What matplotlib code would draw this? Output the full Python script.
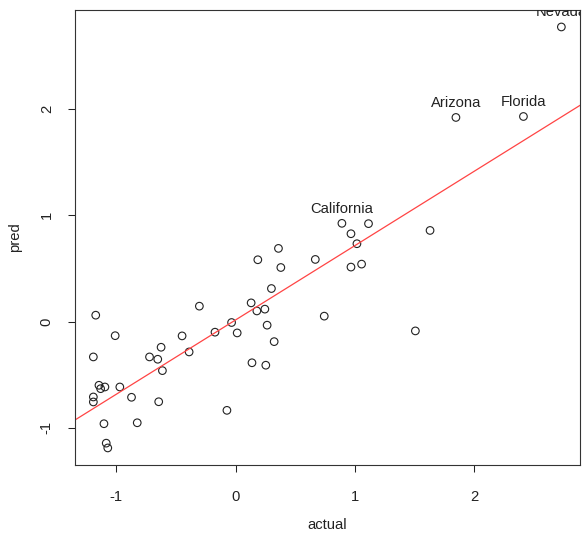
import numpy as np
import matplotlib
matplotlib.use("Agg")
import matplotlib.pyplot as plt

plt.rcParams["font.family"] = ["Liberation Sans", "DejaVu Sans"]

# standardized actual vs predicted values, one point per state
actual = [
    -1.173, -1.010, -1.193, -1.146, -1.132, -1.096, -0.971, -1.193, -1.193,
    -0.873, -1.104, -0.825, -1.085, -1.072, -0.645, -0.073, -0.722, -0.653,
    -0.625, -0.614, -0.449, -0.390, -0.304, -0.173, -0.034, 0.013, 0.130,
    0.178, 0.137, 0.245, 0.264, 0.323, 0.253, 0.300, 0.186, 0.359, 0.379,
    0.668, 0.743, 0.891, 1.114, 0.967, 1.017, 0.967, 1.056, 1.507, 1.630,
    1.847, 2.413, 2.731,
]
pred = [
    0.060, -0.133, -0.333, -0.600, -0.632, -0.616, -0.616, -0.710, -0.757,
    -0.713, -0.962, -0.953, -1.145, -1.190, -0.755, -0.836, -0.333, -0.355,
    -0.242, -0.462, -0.135, -0.286, 0.145, -0.100, -0.009, -0.107, 0.176,
    0.100, -0.388, 0.117, -0.034, -0.189, -0.411, 0.311, 0.582, 0.689, 0.509,
    0.585, 0.051, 0.925, 0.922, 0.827, 0.733, 0.513, 0.541, -0.088, 0.858,
    1.922, 1.931, 2.774,
]
labelled = {39: "California", 47: "Arizona", 48: "Florida", 49: "Nevada"}

x = np.array(actual)
y = np.array(pred)
slope, intercept = np.polyfit(x, y, 1)

fs = 10.6
fig = plt.figure(figsize=(5.83, 5.33), dpi=100)
ax = fig.add_axes([0.128, 0.128, 0.867, 0.853])

ax.scatter(x, y, s=30, facecolors="none", edgecolors="#222222", linewidths=0.8)
ax.axline((0, intercept), slope=slope, color="#ff4444", lw=0.9)

# labels sit just above their points and are clipped to the plot box
for i, name in labelled.items():
    ax.annotate(name, (x[i], y[i]), xytext=(0, 10.5), textcoords="offset points",
                ha="center", va="center", fontsize=fs, color="#222222",
                annotation_clip=False, clip_on=True)

xr = x.max() - x.min()
yr = y.max() - y.min()
ax.set_xlim(x.min() - 0.04 * xr, x.max() + 0.04 * xr)
ax.set_ylim(y.min() - 0.04 * yr, y.max() + 0.04 * yr)

ax.set_xticks([-1, 0, 1, 2])
ax.set_yticks([-1, 0, 1, 2])
ax.set_xticklabels(["-1", "0", "1", "2"])
ax.set_yticklabels(["-1", "0", "1", "2"], rotation=90, va="center")
ax.tick_params(direction="out", length=5, width=0.75, labelsize=fs,
               colors="#222222")
ax.tick_params(axis="x", pad=13)
ax.tick_params(axis="y", pad=10)
for sp in ax.spines.values():
    sp.set_linewidth(0.8)
    sp.set_color("#333333")

ax.set_xlabel("actual", fontsize=fs, labelpad=10, color="#222222")
ax.set_ylabel("pred", fontsize=fs, labelpad=13, color="#222222")

fig.savefig("out.png", dpi=100)
plt.close(fig)
